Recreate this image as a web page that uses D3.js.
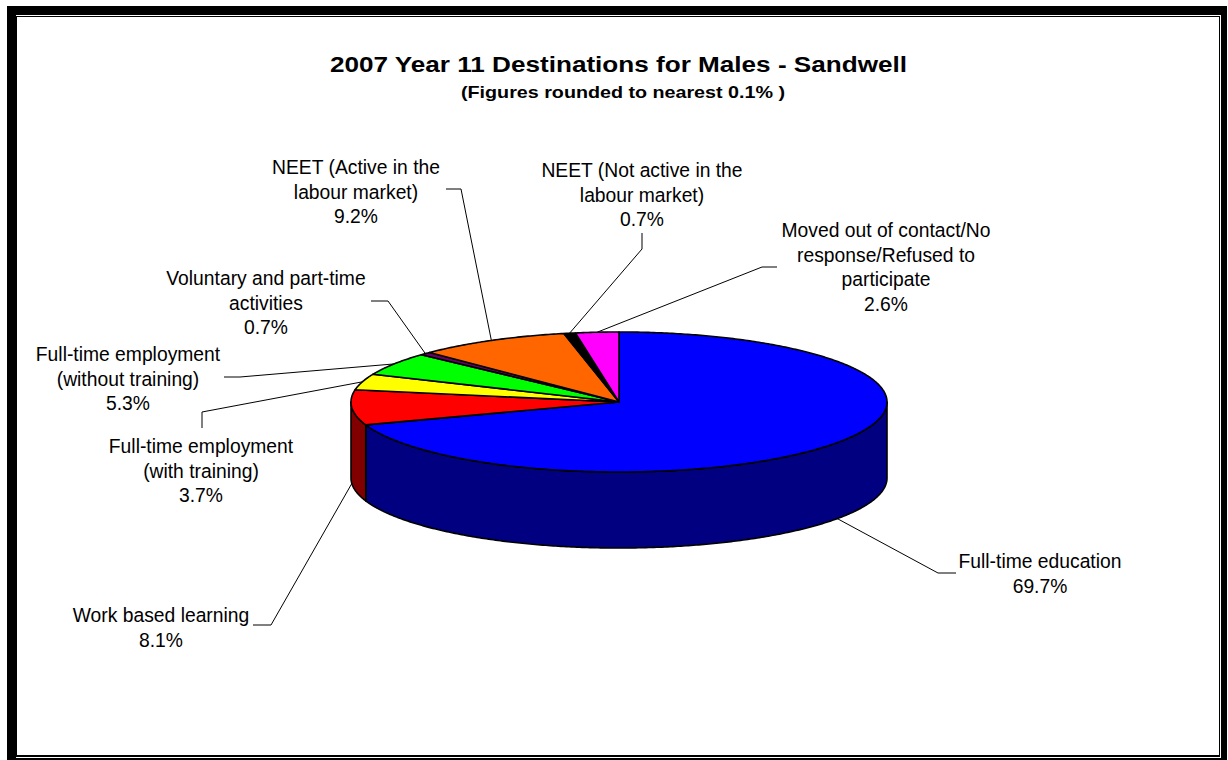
<!DOCTYPE html>
<html>
<head>
<meta charset="utf-8">
<script src="https://cdn.jsdelivr.net/npm/d3@7"></script>
<style>
  html, body { margin: 0; padding: 0; background: #fff; }
  svg { display: block; }
  text { font-family: "Liberation Sans", Arial, sans-serif; fill: #000; }
</style>
</head>
<body>
<svg id="chart" width="1228" height="760"></svg>
<script>
// ---- data ----
const titleText = "2007 Year 11 Destinations for Males - Sandwell";
const subtitleText = "(Figures rounded to nearest 0.1% )";
const categories = [
  "Full-time education",
  "Work based learning",
  "Full-time employment (with training)",
  "Full-time employment (without training)",
  "Voluntary and part-time activities",
  "NEET (Active in the labour market)",
  "NEET (Not active in the labour market)",
  "Moved out of contact/No response/Refused to participate"
];
const values = [69.7, 8.1, 3.7, 5.3, 0.7, 9.2, 0.7, 2.6];
const labelLines = [
  ["Full-time education"],
  ["Work based learning"],
  ["Full-time employment", "(with training)"],
  ["Full-time employment", "(without training)"],
  ["Voluntary and part-time", "activities"],
  ["NEET (Active in the", "labour market)"],
  ["NEET (Not active in the", "labour market)"],
  ["Moved out of contact/No", "response/Refused to", "participate"]
];
const topColors  = ["#0000FF", "#FF0000", "#FFFF00", "#00FF00", "#660066", "#FF6600", "#000000", "#FF00FF"];
const sideColors = ["#000080", "#800000", "#808000", "#008000", "#330033", "#803300", "#000000", "#800080"];

// ---- layout ----
const W = 1228, H = 760;
const cx = 619, cy = 402, rx = 268, ry = 70, depth = 76;
const fontSize = 19.3, lineH = 24.5;
// label placement: text centre x, first baseline y, leader start & elbow; "side" = leader attaches to bottom of side wall
const labelLayout = [
  { x: 1040, y: 568, p0: [956, 573], p1: [938, 573], side: true },
  { x: 161,  y: 622, p0: [253, 625], p1: [271, 625], side: true },
  { x: 201,  y: 453, p0: [202, 428], p1: [202, 412], side: false },
  { x: 128,  y: 361, p0: [224, 377], p1: [240, 377], side: false },
  { x: 266,  y: 285, p0: [371, 301], p1: [388, 301], side: false },
  { x: 356,  y: 174, p0: [446, 189], p1: [461, 189], side: false },
  { x: 642,  y: 177, p0: [642, 233], p1: [642, 249], side: false },
  { x: 886,  y: 237, p0: [777, 267], p1: [762, 267], side: false }
];

const svg = d3.select("#chart");

// ---- frame ----
svg.append("rect").attr("x", 7).attr("y", 6).attr("width", 1220).attr("height", 754).attr("fill", "#000");
svg.append("rect").attr("x", 16).attr("y", 15).attr("width", 1205).attr("height", 743).attr("fill", "#fff");
svg.append("rect").attr("x", 16).attr("y", 16).attr("width", 1204).attr("height", 741).attr("fill", "#000");
svg.append("rect").attr("x", 17).attr("y", 17).attr("width", 1202).attr("height", 738).attr("fill", "#fff");

// ---- titles ----
svg.append("text").attr("x", 618.5).attr("y", 72).attr("text-anchor", "middle")
  .attr("font-size", 21.5).attr("font-weight", "bold")
  .attr("textLength", 577).attr("lengthAdjust", "spacingAndGlyphs")
  .text(titleText);
svg.append("text").attr("x", 623).attr("y", 98).attr("text-anchor", "middle")
  .attr("font-size", 17).attr("font-weight", "bold")
  .attr("textLength", 324).attr("lengthAdjust", "spacingAndGlyphs")
  .text(subtitleText);

// ---- pie ----
const pie = d3.pie().sort(null).startAngle(0).endAngle(2 * Math.PI)(values);
const xS = d3.scaleLinear().domain([-1, 1]).range([cx - rx, cx + rx]);
const yS = d3.scaleLinear().domain([-1, 1]).range([cy + ry, cy - ry]);
const pt = (a, dy = 0) => [xS(Math.sin(a)), yS(Math.cos(a)) + dy];

function arcPts(a0, a1, dy) {
  const n = Math.max(2, Math.ceil(Math.abs(a1 - a0) / 0.01));
  return d3.range(n + 1).map(i => pt(a0 + (a1 - a0) * i / n, dy));
}

const g = svg.append("g");

// side walls (front half only)
pie.forEach((d, i) => {
  const lo = Math.max(d.startAngle, Math.PI / 2);
  const hi = Math.min(d.endAngle, 3 * Math.PI / 2);
  if (lo >= hi) return;
  const pts = arcPts(lo, hi, 0).concat(arcPts(hi, lo, depth));
  g.append("path")
    .attr("d", d3.line()(pts) + "Z")
    .attr("fill", sideColors[i]).attr("stroke", "#000").attr("stroke-width", 1.6)
    .attr("stroke-linejoin", "round");
});

// top faces
pie.forEach((d, i) => {
  const pts = [[cx, cy]].concat(arcPts(d.startAngle, d.endAngle, 0));
  g.append("path")
    .attr("d", d3.line()(pts) + "Z")
    .attr("fill", topColors[i]).attr("stroke", "#000").attr("stroke-width", 1.6)
    .attr("stroke-linejoin", "round");
});

// ---- labels & leaders ----
const fmt = v => d3.format(".1f")(v) + "%";
pie.forEach((d, i) => {
  const L = labelLayout[i];
  const mid = (d.startAngle + d.endAngle) / 2;
  const end = pt(mid, L.side ? depth : 0);
  svg.append("path")
    .attr("d", d3.line()([L.p0, L.p1, end]))
    .attr("fill", "none").attr("stroke", "#000").attr("stroke-width", 1);
  const t = svg.append("text").attr("text-anchor", "middle").attr("font-size", fontSize);
  const lines = labelLines[i].concat([fmt(values[i])]);
  lines.forEach((s, k) => {
    t.append("tspan").attr("x", L.x).attr("y", L.y + k * lineH).text(s);
  });
});
</script>
</body>
</html>
